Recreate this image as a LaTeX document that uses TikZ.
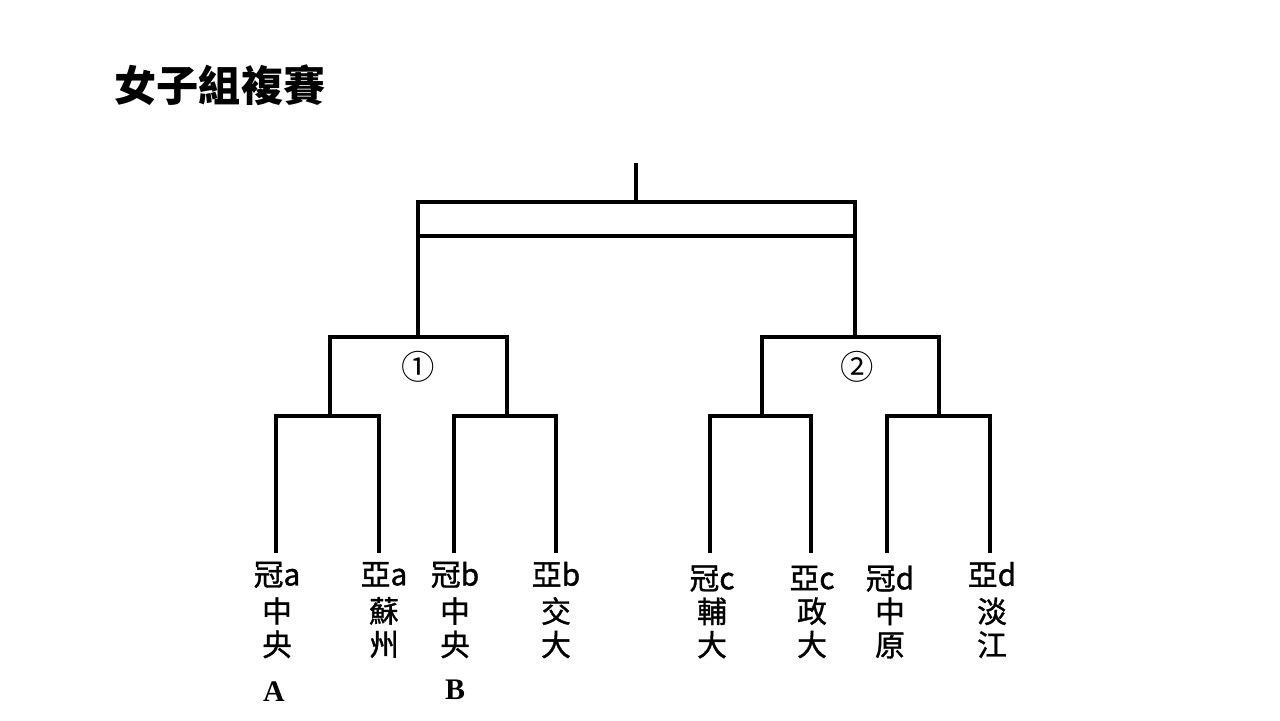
\documentclass[tikz,border=0pt]{standalone}
\usepackage{fontspec}
\newfontfamily\cjk{Noto Sans CJK TC}
\newfontfamily\cjkmid[FakeBold=1.2]{Noto Sans CJK TC}
\newfontfamily\timesfont{Liberation Serif}
\usetikzlibrary{calc}

\begin{document}
\begin{tikzpicture}[x=0.02cm,y=-0.02cm,line width=1.75pt,
    title/.style={font=\cjk\bfseries\fontsize{24}{28}\selectfont,inner sep=0pt},
    team/.style={font=\cjkmid\fontsize{17}{19}\selectfont,align=center,inner sep=0pt},
    circnum/.style={font=\cjk\fontsize{19}{22}\selectfont,inner sep=0pt},
    pool/.style={font=\timesfont\bfseries\fontsize{17}{20}\selectfont,inner sep=0pt}]
            \useasboundingbox (0,0) rectangle (1280,720);
            \node[title,anchor=west] (title) at (113,85) {女子組複賽};
            \coordinate (champ) at (636,163);
            \coordinate (final) at (636,202);
            \coordinate (fl) at (418,236);
            \coordinate (fr) at (855,236);
            \coordinate (s1) at (418,337);
            \coordinate (s2) at (855,337);
            \coordinate (q1) at (330,416);
            \coordinate (q2) at (507,416);
            \coordinate (q3) at (762,416);
            \coordinate (q4) at (939,416);
            \coordinate (ca) at (276,553);
            \coordinate (ya) at (379,553);
            \coordinate (cb) at (454,553);
            \coordinate (yb) at (556,553);
            \coordinate (cc) at (710,553);
            \coordinate (yc) at (811,553);
            \coordinate (cd) at (887,553);
            \coordinate (yd) at (990,553);
            \node[team] (ta) at (277,610) {冠a\\[2pt]中\\央};
            \node[team] (tb) at (384,610) {亞a\\[2pt]蘇\\州};
            \node[team] (tc) at (455,610) {冠b\\[2pt]中\\央};
            \node[team] (td) at (556,610) {亞b\\[2pt]交\\大};
            \node[team] (te) at (712,612) {冠c\\輔\\大};
            \node[team] (tf) at (812,612) {亞c\\政\\大};
            \node[team] (tg) at (890,612) {冠d\\中\\原};
            \node[team] (th) at (992,610) {亞d\\[2pt]淡\\江};
            \node[circnum] (n1) at (418,367) {①};
            \node[circnum] (n2) at (857,367) {②};
            \node[pool] (pa) at (274,692) {A};
            \node[pool] (pb) at (455,690) {B};
            \draw (ca) |- (q1) -| (ya);
            \draw (cb) |- (q2) -| (yb);
            \draw (cc) |- (q3) -| (yc);
            \draw (cd) |- (q4) -| (yd);
            \draw (q1) |- (s1) -| (q2);
            \draw (q3) |- (s2) -| (q4);
            \draw (s1) |- (final) -| (s2);
            \draw (fl) -- (fr);
            \draw (final) -- (champ);
        \end{tikzpicture}
\end{document}
